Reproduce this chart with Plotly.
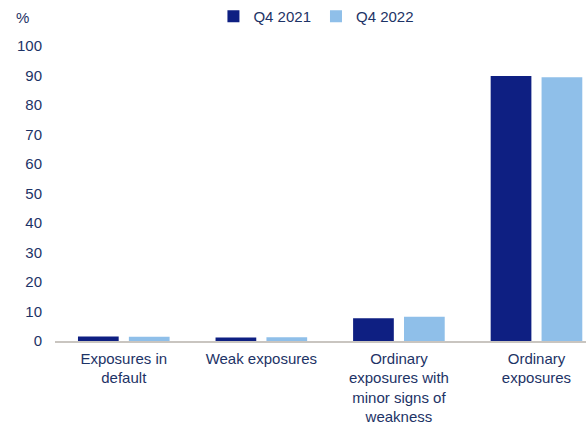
import plotly.graph_objects as go

categories = ["Exposures in<br>default", "Weak exposures",
              "Ordinary<br>exposures with<br>minor signs of<br>weakness",
              "Ordinary<br>exposures"]
q4_2021 = [1.5, 1.2, 7.7, 89.8]
q4_2022 = [1.4, 1.3, 8.2, 89.4]
y_ticks = [0, 10, 20, 30, 40, 50, 60, 70, 80, 90, 100]

text_color = "#1d3366"
font = dict(family="Liberation Sans, Arial, sans-serif", size=15, color=text_color)

fig = go.Figure()
fig.add_trace(go.Bar(x=list(range(len(categories))), y=q4_2021, name="Q4 2021",
                     marker=dict(color="#0e1f82", line=dict(width=0))))
fig.add_trace(go.Bar(x=list(range(len(categories))), y=q4_2022, name="Q4 2022",
                     marker=dict(color="#8fbfe9", line=dict(width=0))))

fig.update_layout(
    width=586, height=425,
    margin=dict(l=55, r=0, t=46, b=84),
    paper_bgcolor="white", plot_bgcolor="white",
    font=font,
    barmode="group", bargap=0.26, bargroupgap=0.2,
    showlegend=True,
    legend=dict(orientation="h", x=0.54, xref="container", xanchor="center",
                y=1.0, yref="container", yanchor="top",
                font=font, itemwidth=30, traceorder="normal",
                itemsizing="constant"),
    xaxis=dict(tickmode="array", tickvals=list(range(len(categories))),
               ticktext=categories, range=[-0.5, 3.36], automargin=False,
               showgrid=False, zeroline=False, showline=True,
               linecolor="#c9c5c0", linewidth=1.5, ticks="",
               ticklabelstandoff=3, tickfont=font),
    yaxis=dict(range=[0, 100], tickvals=y_ticks, showgrid=False, automargin=False,
               zeroline=False, showline=False, ticks="",
               ticklabelstandoff=12, tickfont=font),
)

# unit label above the y-axis tick labels
fig.add_annotation(text="%", x=(22 - 55) / 531, y=(425 - 84 - 17) / (425 - 84 - 46),
                   xref="paper", yref="paper", xanchor="center", yanchor="middle",
                   showarrow=False, font=font)

fig.write_html("out.html")
